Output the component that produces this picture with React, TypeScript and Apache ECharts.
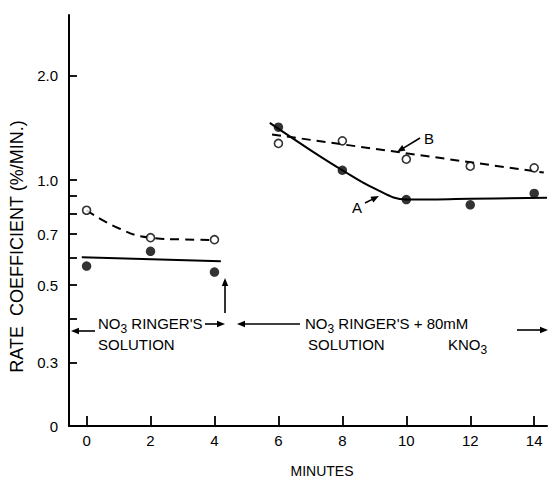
import React, { useEffect, useRef } from "react";
import * as echarts from "echarts";

// ---- data ----
const xTicks = [0, 2, 4, 6, 8, 10, 12, 14];
// bottom of the (broken) log axis is labelled "0"
const yTickValues = [0.197, 0.3, 0.5, 0.7, 1.0, 2.0];
const yTickLabels = ["0", "0.3", "0.5", "0.7", "1.0", "2.0"];
const yMinorTicks = [0.3, 0.4, 0.5, 0.6, 0.7, 0.8, 0.9, 1.0, 2.0];
const yAxisTop = 2.98;

// open circles (curve B)
const pointsB = [
  [0, 0.82], [2, 0.684], [4, 0.675],
  [6, 1.275], [8, 1.297], [10, 1.149], [12, 1.097], [14, 1.085],
];
// filled circles (curve A)
const pointsA = [
  [0, 0.567], [2, 0.625], [4, 0.545],
  [6, 1.42], [8, 1.068], [10, 0.88], [12, 0.85], [14, 0.916],
];
// fitted curves
const curveBControl = [[0, 0.82], [1, 0.728], [2, 0.684], [3, 0.676], [4, 0.674]];
const curveAControl = [[-0.15, 0.601], [4.2, 0.585]];
const curveBKno3 = [[5.8, 1.353], [14.3, 1.052]];
const curveAKno3 = [[5.73, 1.46], [7, 1.22], [8, 1.068], [9, 0.947], [10, 0.88], [12, 0.884], [14.4, 0.89]];

const FONT = "'Liberation Sans', Arial, sans-serif";
const INK = "#000";

const lg = (d: number[][]) => d.map(([x, y]) => [x, Math.log10(y)]);

function arrow(x1: number, y1: number, x2: number, y2: number, head = 8, half = 3.2) {
  const dx = x2 - x1, dy = y2 - y1;
  const len = Math.hypot(dx, dy);
  const ux = dx / len, uy = dy / len;
  const bx = x2 - ux * head, by = y2 - uy * head;
  return [
    { type: "line", shape: { x1, y1, x2: bx + ux, y2: by + uy }, style: { stroke: INK, lineWidth: 1.6 }, z: 100 },
    {
      type: "polygon",
      shape: { points: [[x2, y2], [bx - uy * half, by + ux * half], [bx + uy * half, by - ux * half]] },
      style: { fill: INK },
      z: 100,
    },
  ];
}

const richBase = {
  m: { fontSize: 15, lineHeight: 24, fontFamily: FONT, fill: INK, verticalAlign: "middle" },
  s: { fontSize: 12, lineHeight: 12, fontFamily: FONT, fill: INK, verticalAlign: "bottom" },
};

function label(x: number, y: number, text: string, rich = false) {
  return {
    type: "text",
    x,
    y,
    z: 100,
    style: rich
      ? { text, rich: richBase, align: "left", verticalAlign: "middle", fill: INK }
      : { text, font: `15px ${FONT}`, align: "left", verticalAlign: "middle", fill: INK },
  };
}

export default function App() {
  const ref = useRef<HTMLDivElement>(null);
  useEffect(() => {
    if (!ref.current) return;
    const chart = echarts.init(ref.current, null, { renderer: "svg" });
    const axisText = { color: INK, fontSize: 15, fontFamily: FONT };
    const option: any = {
      animation: false,
      backgroundColor: "#fff",
      grid: { left: 69, right: 1, top: 15, bottom: 52, containLabel: false, outerBoundsMode: "none" },
      xAxis: {
        type: "value",
        min: -0.55,
        max: 14.4,
        name: "MINUTES",
        nameLocation: "middle",
        nameGap: 38,
        nameTextStyle: { color: INK, fontSize: 14, fontFamily: FONT, padding: [0, 0, 0, 28] },
        axisLine: { show: true, onZero: false, lineStyle: { color: INK, width: 2 } },
        axisTick: { show: true, inside: true, length: 10, customValues: xTicks, lineStyle: { color: INK, width: 1.8 } },
        axisLabel: { ...axisText, margin: 7, customValues: xTicks },
        splitLine: { show: false },
      },
      yAxis: {
        type: "value",
        min: Math.log10(yTickValues[0]),
        max: Math.log10(yAxisTop),
        name: "RATE  COEFFICIENT (%/MIN.)",
        nameLocation: "middle",
        nameGap: 39,
        nameTextStyle: { color: INK, fontSize: 18, fontFamily: FONT, padding: [0, 52, 0, 0] },
        axisLine: { show: true, onZero: false, lineStyle: { color: INK, width: 2 } },
        axisTick: {
          show: true,
          inside: true,
          length: 8,
          customValues: yMinorTicks.map((v) => Math.log10(v)),
          lineStyle: { color: INK, width: 1.8 },
        },
        axisLabel: {
          ...axisText,
          margin: 11,
          customValues: yTickValues.map((v) => Math.log10(v)),
          formatter: (v: number) => {
            const i = yTickValues.findIndex((t) => Math.abs(Math.log10(t) - v) < 1e-6);
            return i >= 0 ? yTickLabels[i] : "";
          },
        },
        splitLine: { show: false },
      },
      series: [
        {
          type: "line", name: "B fit (NO3 Ringer's)", data: lg(curveBControl), smooth: 0.5, symbol: "none",
          lineStyle: { color: INK, width: 2, type: [9, 6] }, z: 2,
        },
        {
          type: "line", name: "A fit (NO3 Ringer's)", data: lg(curveAControl), symbol: "none",
          lineStyle: { color: INK, width: 2 }, z: 2,
        },
        {
          type: "line", name: "B fit (+KNO3)", data: lg(curveBKno3), symbol: "none",
          lineStyle: { color: INK, width: 2, type: [9, 6] }, z: 2,
        },
        {
          type: "line", name: "A fit (+KNO3)", data: lg(curveAKno3), smooth: 0.4, symbol: "none",
          lineStyle: { color: INK, width: 2 }, z: 2,
        },
        {
          type: "scatter", name: "B", data: lg(pointsB), symbol: "circle", symbolSize: 8,
          itemStyle: { color: "#fff", borderColor: INK, borderWidth: 1.6 }, z: 5,
        },
        {
          type: "scatter", name: "A", data: lg(pointsA), symbol: "circle", symbolSize: 9.5,
          itemStyle: { color: INK }, z: 5,
        },
      ],
      graphic: [
        label(98, 323, "{m|NO}{s|3}{m| RINGER'S}", true),
        label(98, 344, "SOLUTION"),
        label(305, 323, "{m|NO}{s|3}{m| RINGER'S + 80mM}", true),
        label(308, 344, "SOLUTION"),
        label(448, 344, "{m|KNO}{s|3}", true),
        label(352, 207, "A"),
        label(424, 138, "B"),
        ...arrow(95, 331, 71, 331),
        ...arrow(205, 324, 225, 324),
        ...arrow(225, 313, 225, 278),
        ...arrow(300, 324, 237, 324),
        ...arrow(517, 330, 548, 330),
        ...arrow(420, 138, 397, 152),
        ...arrow(365, 203, 379, 196),
      ],
    };
    chart.setOption(option);
    return () => chart.dispose();
  }, []);
  return (
    <div
      ref={ref}
      style={{ position: "absolute", left: 0, top: 0, width: 548, height: 478, background: "#fff" }}
    />
  );
}
